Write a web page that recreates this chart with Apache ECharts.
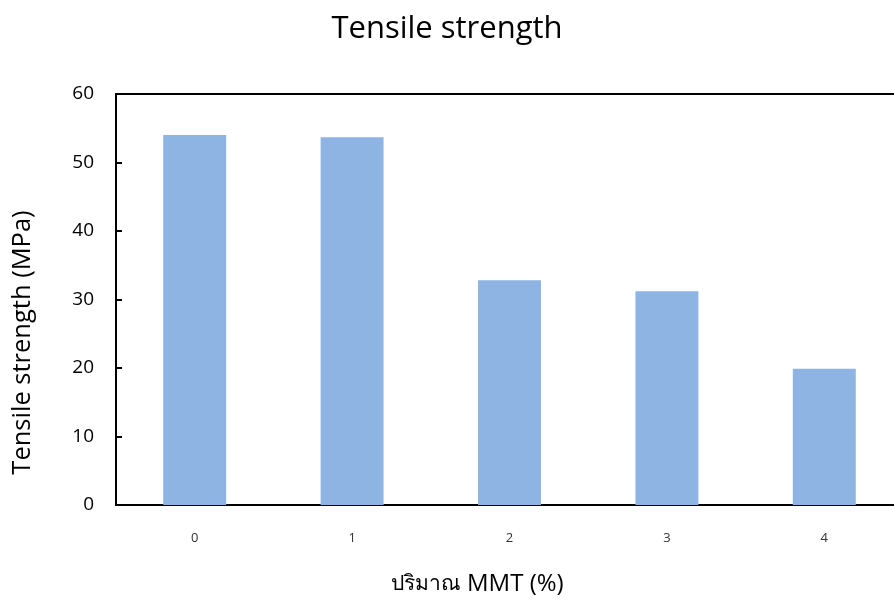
<!DOCTYPE html>
<html><head><meta charset="utf-8">
<script src="https://cdn.jsdelivr.net/npm/echarts@6/dist/echarts.min.js"></script>
<style>html,body{margin:0;padding:0;background:#fff}#c{width:894px;height:600px}</style>
</head><body><div id="c"></div>
<script>
var categories = ['0', '1', '2', '3', '4'];
var tensile = [54.0, 53.7, 32.8, 31.2, 19.9];
var yTicks = [0, 10, 20, 30, 40, 50, 60];

var chart = echarts.init(document.getElementById('c'));
chart.setOption({
  animation: false,
  title: {
    text: 'Tensile strength', left: 'center', top: 9,
    textStyle: { fontFamily: 'Open Sans', fontSize: 31, fontWeight: 'normal', color: '#000' }
  },
  grid: { left: 116, top: 94, width: 787, height: 411, outerBoundsMode: 'none', containLabel: false,
          show: true, borderColor: '#000', borderWidth: 2, backgroundColor: 'transparent' },
  xAxis: {
    type: 'category', data: categories,
    name: '{t|ปริมาณ}  {m|MMT (%)}', nameLocation: 'middle', nameGap: 67,
    nameTextStyle: { color: '#000', padding: [0, 64, 0, 0],
      rich: {
        t: { fontFamily: 'Noto Sans', fontSize: 21, color: '#000' },
        m: { fontFamily: 'Open Sans', fontSize: 24, color: '#000' }
      } },
    axisLine: { lineStyle: { color: '#000', width: 2 } },
    axisTick: { inside: true, length: 6, lineStyle: { color: '#000', width: 2 } },
    axisLabel: { fontFamily: 'Open Sans', fontSize: 13, color: '#333', margin: 27 }
  },
  yAxis: {
    type: 'value', min: yTicks[0], max: yTicks[yTicks.length - 1], interval: 10,
    name: 'Tensile strength (MPa)', nameLocation: 'middle', nameGap: 80,
    nameTextStyle: { fontFamily: 'Open Sans', fontSize: 25.5, color: '#000', padding: [0, 86, 0, 0] },
    axisLine: { show: true, lineStyle: { color: '#000', width: 2 } },
    axisTick: { show: true, inside: true, length: 6, lineStyle: { color: '#000', width: 2 } },
    axisLabel: { fontFamily: 'Open Sans', fontSize: 19, color: '#000', margin: 22 },
    splitLine: { show: false }
  },
  series: [{
    type: 'bar', data: tensile, barWidth: '40%',
    itemStyle: { color: '#8eb4e3' }
  }]
});
</script></body></html>
